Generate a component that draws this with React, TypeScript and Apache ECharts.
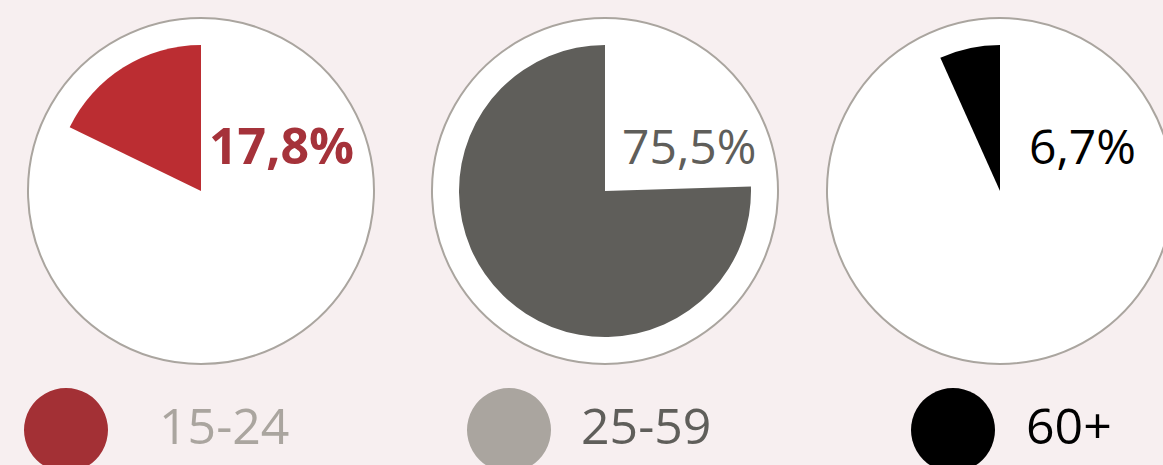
import React, { useEffect, useRef } from "react";
import * as echarts from "echarts";

const categories = ["15-24", "25-59", "60+"];
const shares = [17.8, 75.5, 6.7];
const sliceColors = ["#bb2d32", "#5f5e5a", "#000000"];
const valueLabelColors = ["#a5323a", "#5f5e5a", "#000000"];
const valueLabelWeights = ["bold", "normal", "normal"];
const valueLabelSizes = [50, 48, 48];
const legendDotColors = ["#a33035", "#aaa59f", "#000000"];
const legendTextColors = ["#aaa59f", "#5f5e5a", "#000000"];

const centers: [number, number][] = [
  [201, 191],
  [605, 191],
  [1000, 191],
];
const labelX = [209, 622, 1029];
const legendDotX = [66, 509, 953];
const legendTextX = [159, 581, 1026];

const fmt = (v: number) => v.toFixed(1).replace(".", ",") + "%";

export default function App() {
  const ref = useRef<HTMLDivElement>(null);
  useEffect(() => {
    document.body.style.margin = "0";
    const chart = echarts.init(ref.current!, null, { renderer: "svg" });
    const series: any[] = [];
    centers.forEach((c, i) => {
      series.push({
        type: "pie",
        center: c,
        radius: 173,
        silent: true,
        z: 1,
        label: { show: false },
        labelLine: { show: false },
        emphasis: { disabled: true },
        data: [
          {
            value: 1,
            name: "bg" + i,
            itemStyle: { color: "#ffffff", borderColor: "#aaa59f", borderWidth: 2 },
          },
        ],
      });
      series.push({
        type: "pie",
        center: c,
        radius: 146,
        startAngle: 90,
        clockwise: false,
        silent: true,
        z: 2,
        label: { show: false },
        labelLine: { show: false },
        emphasis: { disabled: true },
        data: [
          { name: categories[i], value: shares[i], itemStyle: { color: sliceColors[i], borderWidth: 0 } },
          { name: "rest" + i, value: 100 - shares[i], itemStyle: { color: "rgba(0,0,0,0)", borderWidth: 0 } },
        ],
      });
    });
    const graphic: any[] = [];
    categories.forEach((cat, i) => {
      graphic.push({
        type: "text",
        x: labelX[i],
        y: 145,
        z: 10,
        style: {
          text: fmt(shares[i]),
          fill: valueLabelColors[i],
          font: `${valueLabelWeights[i]} ${valueLabelSizes[i]}px "Open Sans", sans-serif`,
          verticalAlign: "middle",
          align: "left",
        },
      });
      graphic.push({
        type: "circle",
        shape: { cx: legendDotX[i], cy: 430, r: 42 },
        style: { fill: legendDotColors[i] },
      });
      graphic.push({
        type: "text",
        x: legendTextX[i],
        y: 425,
        style: {
          text: cat,
          fill: legendTextColors[i],
          font: `normal 50px "Open Sans", sans-serif`,
          verticalAlign: "middle",
          align: "left",
        },
      });
    });
    chart.setOption({
      animation: false,
      backgroundColor: "#f7eff0",
      series,
      graphic,
    });
    return () => chart.dispose();
  }, []);
  return <div ref={ref} style={{ width: 1163, height: 465 }} />;
}
